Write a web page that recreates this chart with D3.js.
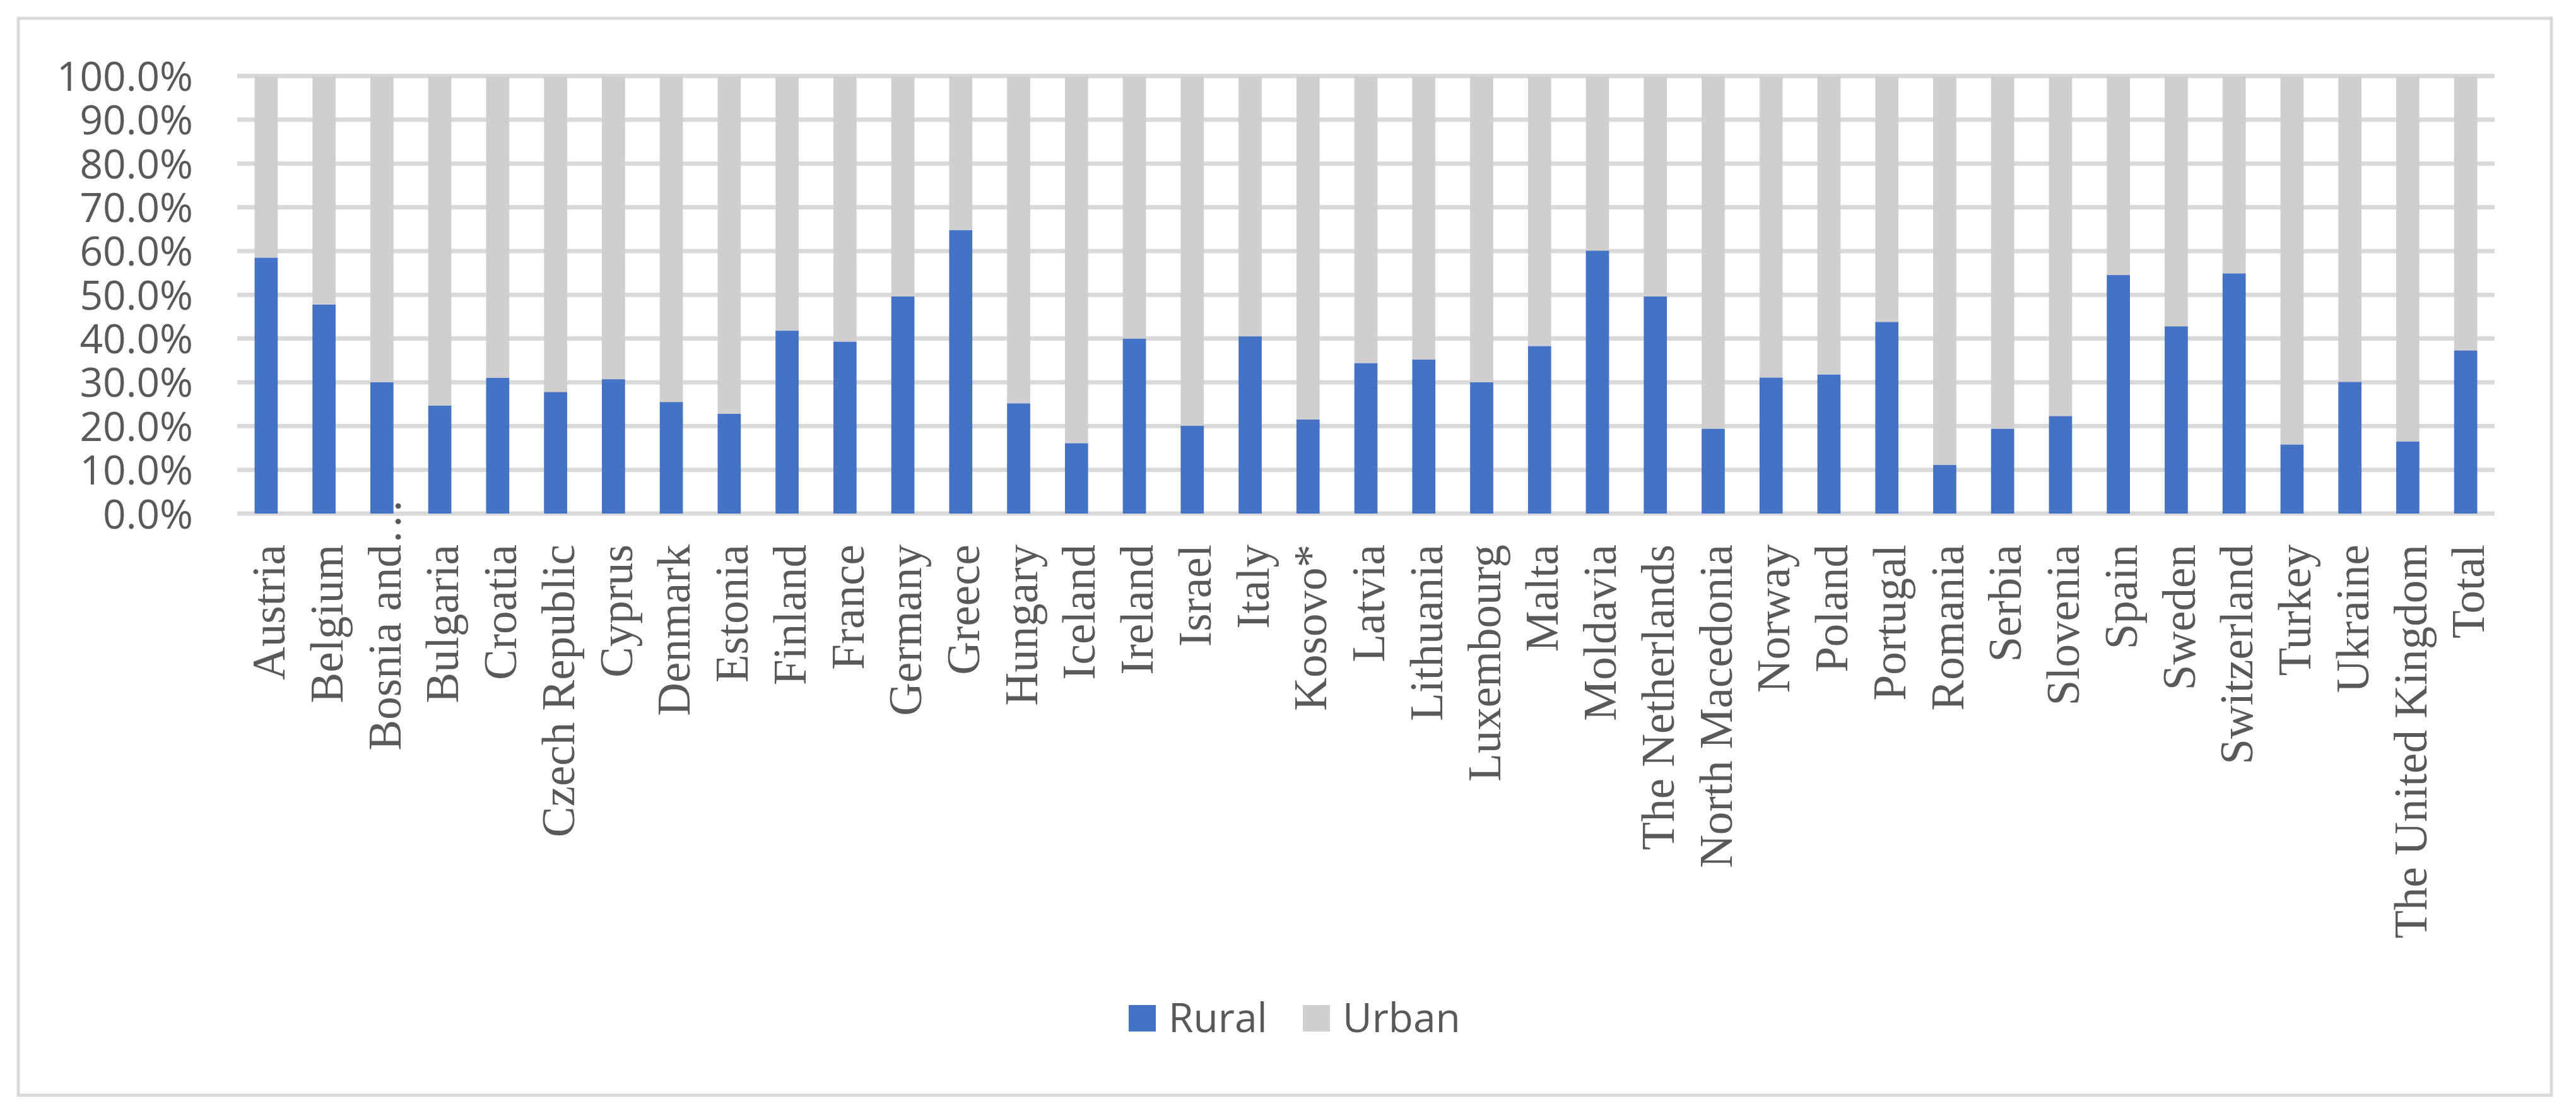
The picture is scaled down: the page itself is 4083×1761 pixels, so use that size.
<!DOCTYPE html>
<html>
<head>
<meta charset="utf-8">
<script src="https://cdn.jsdelivr.net/npm/d3@7"></script>
<style>
  html, body { margin: 0; padding: 0; background: #ffffff; }
  svg { display: block; }
</style>
</head>
<body>
<script>
const categories = ["Austria","Belgium","Bosnia and…","Bulgaria","Croatia","Czech Republic","Cyprus","Denmark","Estonia","Finland","France","Germany","Greece","Hungary","Iceland","Ireland","Israel","Italy","Kosovo*","Latvia","Lithuania","Luxembourg","Malta","Moldavia","The Netherlands","North Macedonia","Norway","Poland","Portugal","Romania","Serbia","Slovenia","Spain","Sweden","Switzerland","Turkey","Ukraine","The United Kingdom","Total"];
const rural = [58.5,47.8,30.0,24.7,31.0,27.8,30.7,25.5,22.8,41.8,39.3,49.6,64.8,25.2,16.1,40.0,20.1,40.5,21.5,34.4,35.2,30.0,38.3,60.1,49.6,19.4,31.1,31.8,43.8,11.1,19.4,22.3,54.5,42.8,54.9,15.8,30.1,16.5,37.3];
const urban = [41.5,52.2,70.0,75.3,69.0,72.2,69.3,74.5,77.2,58.2,60.7,50.4,35.2,74.8,83.9,60.0,79.9,59.5,78.5,65.6,64.8,70.0,61.7,39.9,50.4,80.6,68.9,68.2,56.2,88.9,80.6,77.7,45.5,57.2,45.1,84.2,69.9,83.5,62.7];
const seriesNames = ["Rural","Urban"];
const seriesColors = ["#4472C4","#D0CECE"];
const yTicks = [0,10,20,30,40,50,60,70,80,90,100];

const W = 4083, H = 1761;
const plot = {left: 376, right: 3954, top: 120.5, bottom: 814};

const svg = d3.select("body").append("svg").attr("width", W).attr("height", H);
svg.append("rect").attr("width", W).attr("height", H).attr("fill", "#ffffff");
svg.append("rect").attr("x", 29).attr("y", 29).attr("width", 4015).attr("height", 1707)
  .attr("fill", "none").attr("stroke", "#D9D9D9").attr("stroke-width", 5);

const x = d3.scaleBand().domain(categories).range([plot.left, plot.right]).paddingInner(0.6).paddingOuter(0.3);
const y = d3.scaleLinear().domain([0, 100]).range([plot.bottom, plot.top]);

// gridlines
svg.append("g").selectAll("line").data(yTicks).join("line")
  .attr("x1", plot.left).attr("x2", plot.right)
  .attr("y1", d => y(d)).attr("y2", d => y(d))
  .attr("stroke", "#D9D9D9").attr("stroke-width", 7);

// y axis
const yAxis = svg.append("g").attr("transform", `translate(${plot.left},0)`)
  .call(d3.axisLeft(y).tickValues(yTicks).tickSize(0).tickPadding(70).tickFormat(d => d.toFixed(1) + "%"));
yAxis.select(".domain").remove();
yAxis.selectAll("text").attr("font-family", "'Open Sans', sans-serif").attr("font-size", 64)
  .attr("fill", "#595959").attr("dy", "0.36em");

// stacked bars
const rows = categories.map((c, i) => ({cat: c, Rural: rural[i], Urban: urban[i]}));
const stack = d3.stack().keys(seriesNames)(rows);
svg.append("g").selectAll("g").data(stack).join("g")
  .attr("fill", (d, i) => seriesColors[i])
  .selectAll("rect").data(d => d).join("rect")
  .attr("x", d => x(d.data.cat))
  .attr("width", x.bandwidth())
  .attr("y", d => y(d[1]))
  .attr("height", d => y(d[0]) - y(d[1]));

// x axis labels
const xAxis = svg.append("g").attr("transform", `translate(0,${plot.bottom})`)
  .call(d3.axisBottom(x).tickSize(0).tickPadding(0));
xAxis.select(".domain").remove();
xAxis.selectAll("text")
  .attr("font-family", "'Liberation Serif', serif").attr("font-size", 73).attr("fill", "#595959")
  .attr("text-anchor", "end")
  .attr("transform", "rotate(-90)")
  .attr("x", -49).attr("y", 0).attr("dy", "0.4em");
// Let truncated label's ellipsis overflow toward the axis
xAxis.selectAll("text").filter(d => d.endsWith("…")).each(function(d) {
  const t = d3.select(this);
  t.text(null);
  t.append("tspan").text(d.slice(0, -1));
  const e = t.append("tspan").text("…");
  const w = e.node().getComputedTextLength();
  t.attr("x", -49 + w);
});

// legend
const legend = svg.append("g");
const legendItems = [{name: seriesNames[0], color: seriesColors[0], x: 1789}, {name: seriesNames[1], color: seriesColors[1], x: 2065}];
legend.selectAll("rect").data(legendItems).join("rect")
  .attr("x", d => d.x).attr("y", 1593).attr("width", 43).attr("height", 42).attr("fill", d => d.color);
legend.selectAll("text").data(legendItems).join("text")
  .attr("x", d => d.x + 63).attr("y", 1636)
  .attr("font-family", "'Open Sans', sans-serif").attr("font-size", 64).attr("fill", "#595959")
  .text(d => d.name);
</script>
</body>
</html>
